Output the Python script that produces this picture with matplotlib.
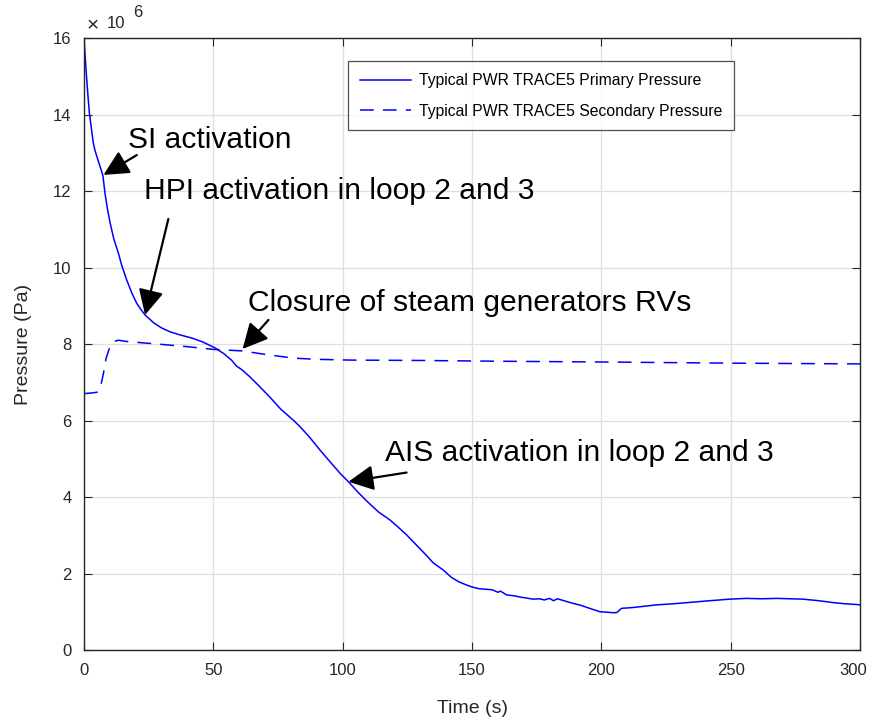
import numpy as np
import matplotlib
matplotlib.use("Agg")
import matplotlib.pyplot as plt
import matplotlib.transforms as mtransforms
from matplotlib.ticker import FuncFormatter

plt.rcParams['font.family'] = ['Liberation Sans', 'DejaVu Sans']

# primary pressure (x 1e6 Pa) vs time (s)
t_primary = [0, 0.4, 0.9, 1.5, 2.05, 3.0, 3.6, 4.2, 5.2, 6.2, 7.3, 8.1, 9.0, 10.1, 11.5, 13.3,
             14.6, 16.5, 18.5, 20.4, 22.0, 23.6, 27, 30, 33.2, 37, 42, 46, 50.6, 54, 57,
             59, 61, 64, 68, 72, 76, 80.9, 83.5, 87, 91.2, 95, 99, 102.2, 106, 110,
             114, 118.3, 121, 124.7, 128, 132, 135, 138.9, 142, 145, 147.9, 150.4, 153,
             155, 157, 158, 160, 161, 163.4, 166, 169, 171, 173.6, 176, 178, 180, 181.5,
             183, 186, 189, 192, 195, 199.5, 202, 204.6, 206, 207.8, 212, 216, 221.3,
             228, 235, 242, 249.7, 256, 262, 268, 272.9, 278, 284, 289.6, 294, 298.7, 300]
p_primary = [16.0, 15.55, 15.05, 14.5, 14.05, 13.55, 13.25, 13.07, 12.85, 12.64, 12.40, 11.94,
             11.55, 11.16, 10.75, 10.37, 10.05, 9.67, 9.33, 9.06, 8.90, 8.76, 8.55, 8.42,
             8.32, 8.24, 8.15, 8.05, 7.90, 7.75, 7.58, 7.42, 7.33, 7.15, 6.88, 6.60, 6.30,
             6.01, 5.84, 5.58, 5.23, 4.93, 4.62, 4.40, 4.12, 3.85, 3.60, 3.40, 3.24, 3.01,
             2.78, 2.50, 2.28, 2.09, 1.90, 1.78, 1.70, 1.64, 1.60, 1.59, 1.58, 1.57, 1.51,
             1.54, 1.44, 1.42, 1.38, 1.36, 1.33, 1.34, 1.31, 1.35, 1.29, 1.34, 1.28, 1.22,
             1.17, 1.10, 1.00, 0.99, 0.975, 0.98, 1.09, 1.11, 1.14, 1.18, 1.21, 1.25, 1.29,
             1.33, 1.35, 1.34, 1.35, 1.34, 1.33, 1.29, 1.24, 1.21, 1.19, 1.18]

# secondary pressure (x 1e6 Pa) vs time (s)
t_secondary = [0, 1, 3, 5.0, 5.9, 6.6, 7.5, 8.5, 10, 11.3, 13.3, 16, 22.9, 30, 40, 50,
               61, 70, 81, 90, 102.8, 130, 160, 200, 250, 300]
p_secondary = [6.70, 6.71, 6.72, 6.74, 6.78, 6.95, 7.23, 7.62, 7.93, 8.06, 8.10, 8.07,
               8.03, 7.99, 7.93, 7.86, 7.82, 7.73, 7.63, 7.60, 7.58, 7.57, 7.55, 7.53,
               7.50, 7.48]

primary_label = 'Typical PWR TRACE5 Primary Pressure'
secondary_label = 'Typical PWR TRACE5 Secondary Pressure'

# annotations: text, text position, arrow tail, arrow tip (time, 1e6 Pa)
notes = [
    ('SI activation', (17.0, 13.33), (20.4, 12.94), (7.5, 12.42)),
    ('HPI activation in loop 2 and 3', (23.0, 12.0), (32.6, 11.27), (23.6, 8.76)),
    ('Closure of steam generators RVs', (63.4, 9.08), (71.3, 8.63), (61.3, 7.87)),
    ('AIS activation in loop 2 and 3', (116.3, 5.16), (124.7, 4.64), (102.2, 4.40)),
]

dark = '#262626'
fig = plt.figure(figsize=(8.7, 7.17), dpi=100)
ax = fig.add_axes([0.0966, 0.0934, 0.8919, 0.8536])

ax.plot(t_primary, np.array(p_primary) * 1e6, color='#0000ff', lw=1.1, label=primary_label)
ax.plot(t_secondary, np.array(p_secondary) * 1e6, color='#0000ff', lw=1.1,
        dashes=(9, 6), label=secondary_label)

for txt, pos, tail, tip in notes:
    ax.text(pos[0], pos[1] * 1e6, txt, fontsize=21.6, color='black', va='center', ha='left')
    ax.annotate('', xy=(tip[0], tip[1] * 1e6), xytext=(tail[0], tail[1] * 1e6),
                arrowprops=dict(arrowstyle='-|>,head_length=0.7,head_width=0.35',
                                color='black', lw=1.6, mutation_scale=22,
                                shrinkA=0, shrinkB=0))

ax.set_xlim(0, 300)
ax.set_ylim(0, 16e6)
ax.set_xticks(np.arange(0, 301, 50))
ax.set_yticks(np.arange(0, 16.1e6, 2e6))
ax.yaxis.set_major_formatter(FuncFormatter(lambda v, p: '%g' % (v / 1e6)))
ax.grid(True, color='#dfdfdf', lw=0.9)
ax.set_axisbelow(True)
ax.tick_params(direction='in', top=True, right=True, labelsize=12, colors=dark,
               length=6, pad=9)
for s in ax.spines.values():
    s.set_color(dark)
    s.set_linewidth(1.0)

# keep the last x tick label inside the figure, as in the original
fig.canvas.draw()
last = ax.get_xticklabels()[-1]
last.set_transform(last.get_transform() + mtransforms.ScaledTranslation(-7 / 100, 0, fig.dpi_scale_trans))

ax.set_xlabel('Time (s)', fontsize=14, color=dark, labelpad=16)
ax.set_ylabel('Pressure (Pa)', fontsize=14, color=dark, labelpad=15)

ax.text(0.003, 1.004, '\u00d7', transform=ax.transAxes, fontsize=15, color=dark,
        ha='left', va='bottom')
ax.text(0.029, 1.012, '10', transform=ax.transAxes, fontsize=12, color=dark,
        ha='left', va='bottom')
ax.text(0.063, 1.03, '6', transform=ax.transAxes, fontsize=12, color=dark,
        ha='left', va='bottom')

leg = ax.legend(loc='upper right', bbox_to_anchor=(0.838, 0.962), fontsize=11.3,
                frameon=True, fancybox=False, edgecolor=dark, handlelength=3.3,
                borderpad=0.75, labelspacing=1.0, handletextpad=0.5, borderaxespad=0)
leg.get_frame().set_linewidth(0.9)

fig.savefig('out.png', dpi=100)
